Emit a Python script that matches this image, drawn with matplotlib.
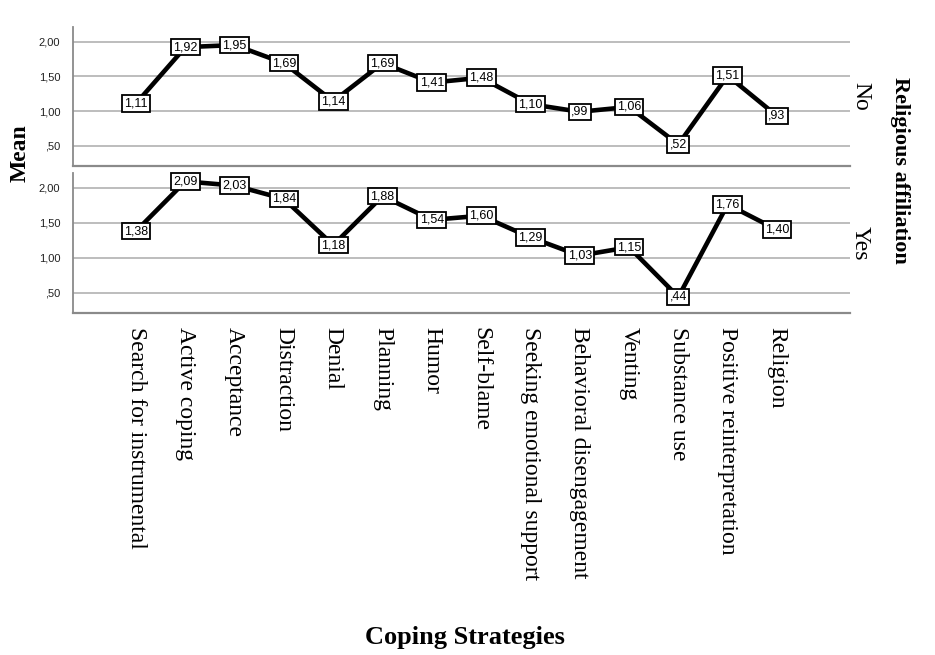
import matplotlib
matplotlib.use("Agg")
import matplotlib.pyplot as plt

strategies = ["Search for instrumental", "Active coping", "Acceptance", "Distraction",
              "Denial", "Planning", "Humor", "Self-blame", "Seeking emotional support",
              "Behavioral disengagement", "Venting", "Substance use",
              "Positive reinterpretation", "Religion"]
groups = ["No", "Yes"]
means_no = [1.11, 1.92, 1.95, 1.69, 1.14, 1.69, 1.41, 1.48, 1.10, 0.99, 1.06, 0.52, 1.51, 0.93]
means_yes = [1.38, 2.09, 2.03, 1.84, 1.18, 1.88, 1.54, 1.60, 1.29, 1.03, 1.15, 0.44, 1.76, 1.40]
yticks = [0.5, 1.0, 1.5, 2.0]


def fmt(v):
    # SPSS style: comma decimal, no leading zero
    s = f"{v:.2f}".replace(".", ",")
    if s.startswith("0"):
        s = s[1:]
    return s


serif = "Liberation Serif"
sans = "Liberation Sans"

fig = plt.figure(figsize=(9.35, 6.55), dpi=100)
ax1 = fig.add_axes([0.078, 0.7466, 0.831, 0.2122])
ax2 = fig.add_axes([0.078, 0.5221, 0.831, 0.2138])

x = list(range(len(strategies)))
for ax, vals, grp in [(ax1, means_no, groups[0]), (ax2, means_yes, groups[1])]:
    ax.set_xlim(-1.28, len(strategies) - 1 + 1.48)
    ax.set_ylim(0.21, 2.21)
    ax.set_yticks(yticks)
    ax.set_yticklabels([fmt(t) for t in yticks], fontfamily=sans, fontsize=8, color="#222222")
    ax.tick_params(axis="y", length=0, pad=9)
    ax.tick_params(axis="x", length=0)
    for t in yticks:
        ax.axhline(t, color="#bdbdbd", lw=1.4, zorder=0)
    for s in ["top", "right"]:
        ax.spines[s].set_visible(False)
    ax.spines["left"].set_color("#8a8a8a")
    ax.spines["bottom"].set_color("#8a8a8a")
    ax.spines["left"].set_linewidth(1.3)
    ax.spines["bottom"].set_linewidth(1.6)
    ax.plot(x, vals, color="black", lw=3.3, zorder=2)
    for xi, v in zip(x, vals):
        ax.text(xi, v, fmt(v), ha="center", va="center", fontfamily=sans, fontsize=9,
                zorder=3, bbox=dict(boxstyle="square,pad=0.18", fc="white", ec="black", lw=1.3))
    ax.text(1.0, 0.5, grp, transform=ax.transAxes, rotation=270, ha="left", va="center",
            fontfamily=serif, fontsize=17)

ax1.set_xticks(x)
ax1.set_xticklabels([])
ax2.set_xticks(x)
ax2.set_xticklabels(strategies, rotation=270, fontfamily=serif, fontsize=17,
                    va="top", ha="center")
ax2.tick_params(axis="x", pad=10)

fig.text(0.022, 0.766, "Mean", rotation=90, ha="center", va="center",
         fontfamily=serif, fontsize=17, fontweight="bold")
fig.text(0.963, 0.74, "Religious affiliation", rotation=270, ha="center", va="center",
         fontfamily=serif, fontsize=16, fontweight="bold")
fig.text(0.497, 0.026, "Coping Strategies", ha="center", va="center",
         fontfamily=serif, fontsize=19, fontweight="bold")

fig.savefig("out.png", dpi=100, facecolor="white")
